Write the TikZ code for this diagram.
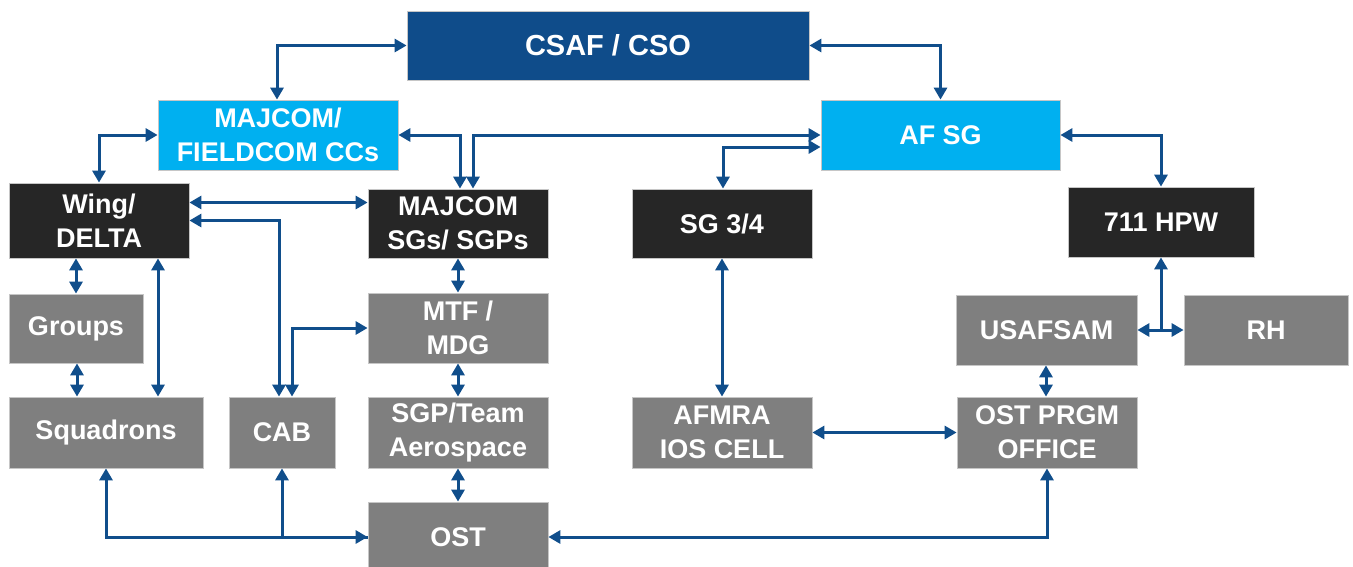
\documentclass[tikz,border=0pt]{standalone}
\usepackage{fontspec}
\setmainfont{Liberation Sans}
\usetikzlibrary{arrows.meta}

\definecolor{csafblue}{HTML}{0F4C8A}
\definecolor{cyanbox}{HTML}{00B0F0}
\definecolor{darkbox}{HTML}{262626}
\definecolor{greybox}{HTML}{7F7F7F}
\definecolor{linkblue}{HTML}{104E8B}

\tikzset{
  box/.style={draw=gray!45, line width=0.8pt, text=white, align=center,
    inner sep=0pt, font=\fontsize{27}{34}\selectfont\bfseries},
  topbox/.style={box, fill=csafblue, font=\fontsize{29}{34}\selectfont\bfseries},
  cmdbox/.style={box, fill=cyanbox},
  unitbox/.style={box, fill=darkbox},
  subbox/.style={box, fill=greybox},
  link/.style={draw=linkblue, line width=3pt},
  >={Triangle[length=12pt,width=13pt]}
}

\begin{document}
\begin{tikzpicture}[x=1pt,y=-1pt]

% fundo
\path[fill=white,use as bounding box] (0,0) rectangle (1353,566);

% topo
\node[topbox,minimum width=402pt,minimum height=69pt] (csaf) at (608,45.5) {CSAF / CSO};
\node[cmdbox,minimum width=240pt,minimum height=70pt] (ccs) at (278,135) {MAJCOM/\\FIELDCOM CCs};
\node[cmdbox,minimum width=239pt,minimum height=70pt] (afsg) at (940.5,135) {AF SG};

% segunda linha
\node[unitbox,minimum width=180pt,minimum height=75pt] (wing) at (99,220.5) {Wing/\\DELTA};
\node[unitbox,minimum width=180pt,minimum height=69pt] (sgs) at (458,223.5) {MAJCOM\\SGs/ SGPs};
\node[unitbox,minimum width=180pt,minimum height=69pt] (sgthree) at (722,223.5) {SG 3/4};
\node[unitbox,minimum width=186pt,minimum height=70pt] (hpw) at (1161,222) {711 HPW};

% terceira linha
\node[subbox,minimum width=134pt,minimum height=69pt] (groups) at (76,328.5) {Groups};
\node[subbox,minimum width=180pt,minimum height=70pt] (mtf) at (458,328) {MTF /\\MDG};
\node[subbox,minimum width=181pt,minimum height=70pt] (usafsam) at (1046.5,330) {USAFSAM};
\node[subbox,minimum width=164pt,minimum height=70pt] (rh) at (1266,330) {RH};

% quarta linha
\node[subbox,minimum width=194pt,minimum height=71pt] (squad) at (106,432.5) {Squadrons};
\node[subbox,minimum width=106pt,minimum height=71pt] (cab) at (282,432.5) {CAB};
\node[subbox,minimum width=180pt,minimum height=71pt] (sgp) at (458,432.5) {SGP/Team\\Aerospace};
\node[subbox,minimum width=180pt,minimum height=71pt] (afmra) at (722,432.5) {AFMRA\\IOS CELL};
\node[subbox,minimum width=180pt,minimum height=71pt] (prgm) at (1047,432.5) {OST PRGM\\OFFICE};

% base
\node[subbox,minimum width=180pt,minimum height=70pt] (ost) at (458,537) {OST};

% pontos auxiliares
\coordinate (wingup) at ([yshift=18pt]wing.east);
\coordinate (wingsq) at ([xshift=59pt]wing.south);
\coordinate (afsglow) at ([yshift=-12pt]afsg.west);
\coordinate (hub) at (hpw.south |- usafsam.east);

% ligações do topo
\draw[link,<->] (csaf.west) -| ([xshift=-1pt]ccs.north);
\draw[link,<->] (csaf.east) -| (afsg.north);
\draw[link,<->] (ccs.west) -| (wing.north);
\draw[link,<->] (ccs.east) -| ([xshift=2pt]sgs.north);
\draw[link,<->] (afsg.west) -| ([xshift=15pt]sgs.north);
\draw[link,<->] (afsglow) -| ([xshift=1pt]sgthree.north);
\draw[link,<->] (afsg.east) -| (hpw.north);

% ala
\draw[link,<->] (wingup) -- (wingup -| sgs.west);
\draw[link,<->] (wing.east) -| ([xshift=-3pt]cab.north);
\draw[link,<->] (mtf.west) -| ([xshift=10pt]cab.north);
\draw[link,<->] (groups.north) -- (groups.north |- wing.south);
\draw[link,<->] (wingsq) -- (wingsq |- squad.north);
\draw[link,<->] ([xshift=1pt]groups.south) -- ([xshift=1pt]groups.south |- squad.north);

% coluna central
\draw[link,<->] (sgs.south) -- (mtf.north);
\draw[link,<->] (mtf.south) -- (sgp.north);
\draw[link,<->] (sgp.south) -- (ost.north);

% OST
\draw[link,<->] (squad.south) |- (ost.west);
\draw[link,<-] (cab.south) |- (ost.west);
\draw[link,<->] (ost.east) -| (prgm.south);

% lado direito
\draw[link,<->] (sgthree.south) -- (afmra.north);
\draw[link,<->] (afmra.east) -- (prgm.west);
\draw[link,<->] ([xshift=-0.5pt]usafsam.south) -- ([xshift=-0.5pt]usafsam.south |- prgm.north);
\draw[link,<-] (hpw.south) -- (hub);
\draw[link,->] (hub) -- (usafsam.east);
\draw[link,->] (hub) -- (rh.west);

\end{tikzpicture}
\end{document}
